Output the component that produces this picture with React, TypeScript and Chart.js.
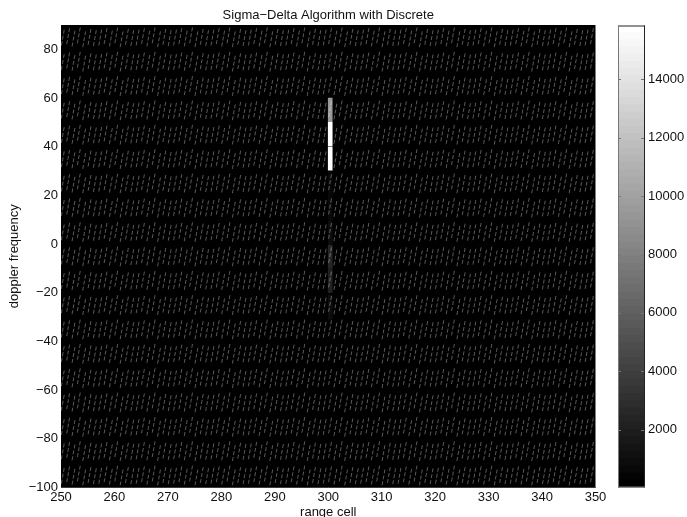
import React, { useEffect, useRef } from "react";
import { Chart, registerables } from "chart.js";

Chart.register(...registerables);

const FONT = "'Liberation Sans', Arial, sans-serif";

const xTicks = [250, 260, 270, 280, 290, 300, 310, 320, 330, 340, 350];
const yTicks = [-100, -80, -60, -40, -20, 0, 20, 40, 60, 80];
const barTicks = [2000, 4000, 6000, 8000, 10000, 12000, 14000];

// range cells that carry the faint texture
const rangeCells = [
  250, 251, 252, 253, 254, 255, 256, 257, 258, 259, 260, 261, 262, 263, 264, 265, 266, 267, 268, 269,
  270, 271, 272, 273, 274, 275, 276, 277, 278, 279, 280, 281, 282, 283, 284, 285, 286, 287, 288, 289,
  290, 291, 292, 293, 294, 295, 296, 297, 298, 299, 300, 301, 302, 303, 304, 305, 306, 307, 308, 309,
  310, 311, 312, 313, 314, 315, 316, 317, 318, 319, 320, 321, 322, 323, 324, 325, 326, 327, 328, 329,
  330, 331, 332, 333, 334, 335, 336, 337, 338, 339, 340, 341, 342, 343, 344, 345, 346, 347, 348, 349,
];
const bandCentres = [-95, -85, -75, -65, -55, -45, -35, -25, -15, -5, 5, 15, 25, 35, 45, 55, 65, 75, 85];
const streakHalfHeight = 3.4;
const streakLean = 0.28;
const streakJitter = [0, 0.6, -0.4, 0.9, -0.7, 0.3, -0.2];
const streakColour = "#5a5a5a";

// the strong returns in range cell 300
const peakLow = [-31, -20, -10, 0, 10, 20, 30.4, 40.4, 50.2];
const peakHigh = [-21, -10.4, -0.4, 9.6, 19.6, 29.6, 40, 50, 60];
const peakLevel = [0.05, 0.13, 0.15, 0.05, 0.04, 0.03, 1, 1, 0.6];
const peakCell = 300.37;

const barMin = 17;
const barMax = 15846;
const colourSteps = 64;

const minusTick = (v: any) => String(v).replace("-", "\u2212");

export default function App() {
  const mainRef = useRef<HTMLCanvasElement>(null);
  const barRef = useRef<HTMLCanvasElement>(null);

  useEffect(() => {
    document.body.style.margin = "0";
    const streaks: { x: number; y: number | null }[] = [];
    bandCentres.forEach((c) => {
      rangeCells.forEach((x, i) => {
        const j = streakJitter[i % streakJitter.length];
        streaks.push({ x: x + 0.35 - streakLean, y: c + j - streakHalfHeight });
        streaks.push({ x: x + 0.35 + streakLean, y: c + j + streakHalfHeight });
        streaks.push({ x: x + 0.35, y: null });
      });
    });

    const blackPlate = {
      id: "blackPlate",
      beforeDatasetsDraw(chart: any) {
        const { ctx, chartArea: a } = chart;
        ctx.save();
        ctx.fillStyle = "#000";
        ctx.fillRect(a.left, a.top, a.right - a.left, a.bottom - a.top);
        ctx.restore();
      },
    };

    const main = new Chart(mainRef.current!, {
      type: "bar",
      plugins: [blackPlate],
      data: {
        datasets: [
          {
            type: "bar",
            order: 0,
            data: peakLow.map((lo, i) => ({ x: peakCell, y: [lo, peakHigh[i]] })) as any,
            backgroundColor: peakLevel.map((a) => `rgba(255,255,255,${a})`),
            borderWidth: 0,
            barThickness: 4,
          },
          {
            type: "line",
            order: 1,
            data: streaks as any,
            borderColor: streakColour,
            borderWidth: 1,
            borderDash: [4, 2],
            pointRadius: 0,
            spanGaps: false,
            tension: 0,
          },
        ],
      },
      options: {
        animation: false,
        responsive: false,
        events: [],
        layout: { padding: { top: 0, right: 91.5, bottom: 0, left: 0 } },
        plugins: {
          legend: { display: false },
          tooltip: { enabled: false },
          title: {
            display: true,
            fullSize: false,
            text: "Sigma\u2212Delta Algorithm with Discrete",
            color: "#111",
            font: { family: FONT, size: 13, weight: "normal" },
            padding: { top: 7.2, bottom: 2.2 },
          } as any,
        },
        scales: {
          x: {
            type: "linear",
            min: 250,
            max: 350,
            offset: false,
            afterBuildTicks: (s: any) => {
              s.ticks = xTicks.map((value) => ({ value }));
            },
            afterFit: (s: any) => {
              s.height = 29.5;
            },
            grid: { display: false, drawTicks: false },
            border: { display: true, color: "#777", width: 1 },
            ticks: {
              color: "#111",
              font: { family: FONT, size: 13 },
              maxRotation: 0,
              autoSkip: false,
              padding: 2,
            },
            title: {
              display: true,
              text: "range cell",
              color: "#111",
              font: { family: FONT, size: 13 },
              padding: { top: 1, bottom: -3 },
            },
          },
          y: {
            type: "linear",
            min: -100,
            max: 90,
            afterBuildTicks: (s: any) => {
              s.ticks = yTicks.map((value) => ({ value }));
            },
            afterFit: (s: any) => {
              s.width = 61;
            },
            grid: { display: false, drawTicks: false },
            border: { display: true, color: "#777", width: 1 },
            ticks: {
              color: "#111",
              font: { family: FONT, size: 13 },
              autoSkip: false,
              padding: 3,
              callback: minusTick,
            },
            title: {
              display: true,
              text: "doppler frequency",
              color: "#111",
              font: { family: FONT, size: 13 },
              padding: { top: 7, bottom: 0 },
            },
          },
        },
      },
    } as any);

    const levels = Array.from({ length: colourSteps }, (_, i) => i);
    const span = (barMax - barMin) / colourSteps;
    const inwardTicks = {
      id: "inwardTicks",
      afterDraw(chart: any) {
        const { ctx, chartArea: a, scales } = chart;
        ctx.save();
        ctx.strokeStyle = "#777";
        ctx.lineWidth = 1;
        barTicks.forEach((t) => {
          const y = Math.round(scales.y.getPixelForValue(t)) + 0.5;
          ctx.beginPath();
          ctx.moveTo(a.left, y);
          ctx.lineTo(a.left + 3, y);
          ctx.moveTo(a.right - 4, y);
          ctx.lineTo(a.right, y);
          ctx.stroke();
        });
        ctx.strokeStyle = "#222";
        ctx.beginPath();
        ctx.moveTo(a.left, a.top + 0.5);
        ctx.lineTo(a.right, a.top + 0.5);
        ctx.moveTo(a.right - 0.5, a.top);
        ctx.lineTo(a.right - 0.5, a.bottom);
        ctx.stroke();
        ctx.strokeStyle = "#777";
        ctx.beginPath();
        ctx.moveTo(a.left + 0.5, a.top);
        ctx.lineTo(a.left + 0.5, a.bottom);
        ctx.moveTo(a.left, a.bottom - 0.5);
        ctx.lineTo(a.right, a.bottom - 0.5);
        ctx.stroke();
        ctx.restore();
      },
    };

    const bar = new Chart(barRef.current!, {
      type: "bar",
      plugins: [inwardTicks],
      data: {
        labels: ["colour"],
        datasets: levels.map((i) => {
          const g = Math.round((255 * i) / (colourSteps - 1));
          return {
            data: [[barMin + i * span, barMin + (i + 1) * span + 12]],
            backgroundColor: `rgb(${g},${g},${g})`,
            borderWidth: 0,
            grouped: false,
            categoryPercentage: 1,
            barPercentage: 1,
          };
        }) as any,
      },
      options: {
        animation: false,
        responsive: false,
        events: [],
        layout: { padding: { top: 25.5, right: 0, bottom: 29.5, left: 18 } },
        plugins: { legend: { display: false }, tooltip: { enabled: false } },
        scales: {
          x: { display: false },
          y: {
            type: "linear",
            position: "right",
            min: barMin,
            max: barMax,
            afterBuildTicks: (s: any) => {
              s.ticks = barTicks.map((value) => ({ value }));
            },
            afterFit: (s: any) => {
              s.width = 42;
            },
            grid: { display: false, drawTicks: false },
            border: { display: false },
            ticks: {
              color: "#111",
              font: { family: FONT, size: 13 },
              autoSkip: false,
              padding: 3,
              callback: (v: any) => String(v),
            },
          },
        },
      },
    } as any);

    return () => {
      main.destroy();
      bar.destroy();
    };
  }, []);

  return (
    <div style={{ position: "relative", width: 687, height: 517, overflow: "hidden", background: "#fff" }}>
      <canvas ref={mainRef} width={687} height={517} style={{ position: "absolute", left: 0, top: 0, width: 687, height: 517 }} />
      <canvas ref={barRef} width={87} height={517} style={{ position: "absolute", left: 600, top: 0, width: 87, height: 517 }} />
    </div>
  );
}
